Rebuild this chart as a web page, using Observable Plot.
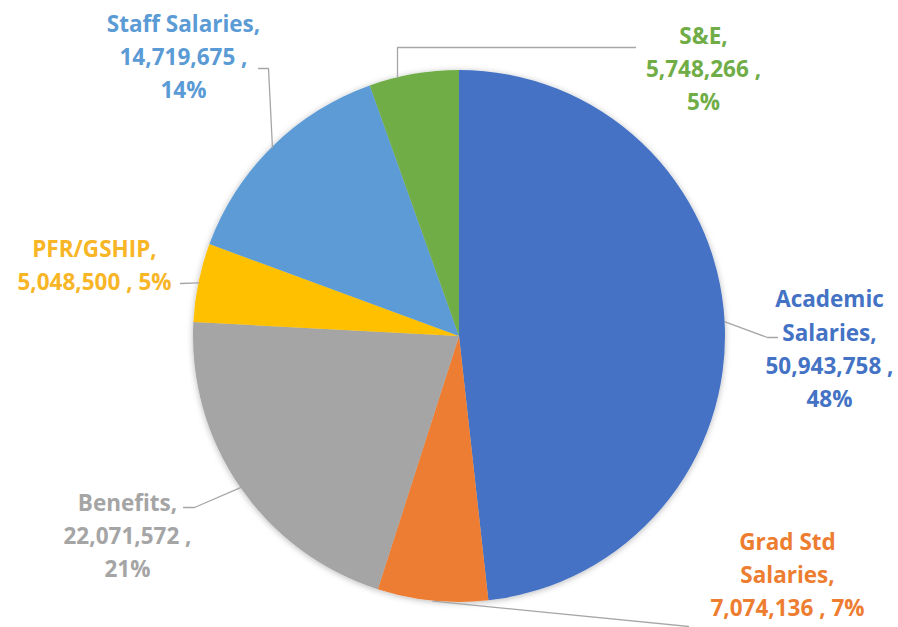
<!DOCTYPE html>
<html><head><meta charset="utf-8">
<script src="https://cdn.jsdelivr.net/npm/d3@7"></script>
<script src="https://cdn.jsdelivr.net/npm/@observablehq/plot@0.6"></script>
<style>
body{margin:0;background:#fff;}
#chart{width:898px;height:627px;}
</style>
</head><body><div id="chart"></div>
<script>
// ---- data ----
const categories = ["Academic Salaries", "Grad Std Salaries", "Benefits", "PFR/GSHIP", "Staff Salaries", "S&E"];
const amounts = [50943758, 7074136, 22071572, 5048500, 14719675, 5748266];
const percentLabels = ["48%", "7%", "21%", "5%", "14%", "5%"];
const sliceColors = ["#4472C4", "#ED7D31", "#A5A5A5", "#FFC000", "#5B9BD5", "#70AD47"];
const labelColors = ["#4472C4", "#ED7D31", "#A5A5A5", "#F8B526", "#5B9BD5", "#70AD47"];

// ---- layout (pixels of the 898x627 canvas) ----
const W = 898, H = 627;
const CX = 459, CY = 336, R = 266;
const labelLayout = {
  "Academic Salaries": {x: 829, y: 346, nameBreak: true,  pctBreak: true,  elbow: [[777, 337], [767, 337]]},
  "Grad Std Salaries": {x: 787, y: 572, nameBreak: true,  pctBreak: false, elbow: [[688, 626]]},
  "Benefits":          {x: 127, y: 533, nameBreak: false, pctBreak: true,  elbow: [[183, 507], [194, 507]]},
  "PFR/GSHIP":         {x: 94,  y: 262, nameBreak: false, pctBreak: false, elbow: [[180, 283]]},
  "Staff Salaries":    {x: 183, y: 54,  nameBreak: false, pctBreak: true,  elbow: [[258, 68], [268, 68]]},
  "S&E":               {x: 703, y: 66,  nameBreak: false, pctBreak: true,  elbow: [[635, 47], [397, 47]], vertical: true}
};

const fmt = d3.format(",");
const rows = categories.map((c, i) => ({category: c, amount: amounts[i], pct: percentLabels[i], color: sliceColors[i], labelColor: labelColors[i]}));
const arcs = d3.pie().sort(null).value(d => d.amount)(rows);

// label texts
const labels = rows.map(d => {
  const L = labelLayout[d.category];
  let name = d.category;
  if (L.nameBreak) { const k = name.lastIndexOf(" "); name = name.slice(0, k) + "\n" + name.slice(k + 1); }
  const text = name + ",\n" + fmt(d.amount) + " ," + (L.pctBreak ? "\n" : " ") + d.pct;
  return {x: L.x, y: L.y, text, color: d.labelColor};
});

// leader lines: label-side elbow points, then the pie edge
const leaders = [];
arcs.forEach(a => {
  const L = labelLayout[a.data.category];
  L.elbow.forEach(p => leaders.push({x: p[0], y: p[1], z: a.data.category}));
  let ex, ey;
  if (L.vertical) {
    const lx = L.elbow[L.elbow.length - 1][0];
    ex = lx; ey = CY - Math.sqrt(R * R - (lx - CX) * (lx - CX));
  } else {
    const m = (a.startAngle + a.endAngle) / 2;
    ex = CX + R * Math.sin(m); ey = CY - R * Math.cos(m);
  }
  leaders.push({x: ex, y: ey, z: a.data.category});
});

// pie slices drawn through the plot's x/y scales
const pieMark = (index, scales) => {
  const cx = scales.x(CX), cy = scales.y(CY);
  const r = Math.abs(scales.x(CX + R) - scales.x(CX));
  const g = d3.create("svg:g");
  const f = g.append("defs").append("filter").attr("id", "pieShadow")
    .attr("x", "-10%").attr("y", "-10%").attr("width", "120%").attr("height", "120%");
  f.append("feDropShadow").attr("dx", 0).attr("dy", 1).attr("stdDeviation", 3)
    .attr("flood-color", "#000").attr("flood-opacity", 0.28);
  const arc = d3.arc().innerRadius(0).outerRadius(r);
  g.append("g").attr("transform", `translate(${cx},${cy})`).attr("filter", "url(#pieShadow)")
    .selectAll("path").data(arcs).join("path")
    .attr("d", arc).attr("fill", d => d.data.color);
  return g.node();
};

const chart = Plot.plot({
  width: W, height: H, margin: 0,
  x: {domain: [0, W], range: [0, W], axis: null},
  y: {domain: [0, H], range: [0, H], axis: null},
  style: {background: "#fff"},
  marks: [
    pieMark,
    Plot.line(leaders, {x: "x", y: "y", z: "z", stroke: "#A6A6A6", strokeWidth: 1.3}),
    Plot.text(labels, {
      x: "x", y: "y", text: "text", fill: "color",
      fontSize: 22.5, fontWeight: "bold", fontFamily: "Open Sans",
      lineHeight: 1.47, textAnchor: "middle", lineAnchor: "middle"
    })
  ]
});
document.getElementById("chart").appendChild(chart);
</script>
</body></html>
